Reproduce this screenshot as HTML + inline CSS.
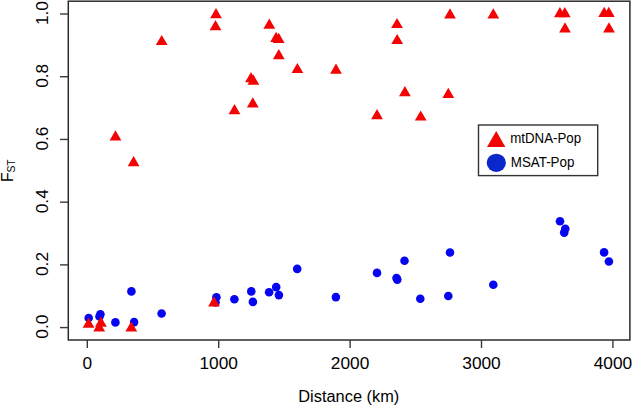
<!DOCTYPE html>
<html><head><meta charset="utf-8"><style>
html,body{margin:0;padding:0;background:#fff;}
body{width:633px;height:406px;overflow:hidden;}
svg{display:block;font-family:"Liberation Sans",sans-serif;fill:#000;}
</style></head><body>
<svg width="633" height="406" viewBox="0 0 633 406">
<rect x="68.3" y="1.2" width="561.6" height="338.8" fill="none" stroke="#2b2b2b" stroke-width="1.5"/>
<line x1="60" y1="327.60" x2="68.3" y2="327.60" stroke="#3a3a3a" stroke-width="1.4"/>
<line x1="60" y1="264.88" x2="68.3" y2="264.88" stroke="#3a3a3a" stroke-width="1.4"/>
<line x1="60" y1="202.16" x2="68.3" y2="202.16" stroke="#3a3a3a" stroke-width="1.4"/>
<line x1="60" y1="139.44" x2="68.3" y2="139.44" stroke="#3a3a3a" stroke-width="1.4"/>
<line x1="60" y1="76.72" x2="68.3" y2="76.72" stroke="#3a3a3a" stroke-width="1.4"/>
<line x1="60" y1="14.00" x2="68.3" y2="14.00" stroke="#3a3a3a" stroke-width="1.4"/>
<line x1="87.30" y1="340.0" x2="87.30" y2="348" stroke="#3a3a3a" stroke-width="1.4"/>
<line x1="218.70" y1="340.0" x2="218.70" y2="348" stroke="#3a3a3a" stroke-width="1.4"/>
<line x1="350.10" y1="340.0" x2="350.10" y2="348" stroke="#3a3a3a" stroke-width="1.4"/>
<line x1="481.50" y1="340.0" x2="481.50" y2="348" stroke="#3a3a3a" stroke-width="1.4"/>
<line x1="612.90" y1="340.0" x2="612.90" y2="348" stroke="#3a3a3a" stroke-width="1.4"/>
<text transform="translate(47.7 326.70) rotate(-90)" text-anchor="middle" font-size="17.3">0.0</text>
<text transform="translate(47.7 263.98) rotate(-90)" text-anchor="middle" font-size="17.3">0.2</text>
<text transform="translate(47.7 201.26) rotate(-90)" text-anchor="middle" font-size="17.3">0.4</text>
<text transform="translate(47.7 138.54) rotate(-90)" text-anchor="middle" font-size="17.3">0.6</text>
<text transform="translate(47.7 75.82) rotate(-90)" text-anchor="middle" font-size="17.3">0.8</text>
<text transform="translate(47.7 13.10) rotate(-90)" text-anchor="middle" font-size="17.3">1.0</text>
<text x="87.30" y="369.2" text-anchor="middle" font-size="17.3">0</text>
<text x="218.70" y="369.2" text-anchor="middle" font-size="17.3">1000</text>
<text x="350.10" y="369.2" text-anchor="middle" font-size="17.3">2000</text>
<text x="481.50" y="369.2" text-anchor="middle" font-size="17.3">3000</text>
<text x="612.90" y="369.2" text-anchor="middle" font-size="17.3">4000</text>
<text x="348.8" y="401.6" text-anchor="middle" font-size="17.3" textLength="101" lengthAdjust="spacingAndGlyphs">Distance (km)</text>
<text transform="translate(13.0 181.9) rotate(-90)" font-size="15.6">F</text><text transform="translate(15.0 172.6) rotate(-90)" font-size="10.2" textLength="13.2" lengthAdjust="spacingAndGlyphs">ST</text>
<g fill="#0505f2"><circle cx="88.7" cy="318" r="4.3"/><circle cx="100.4" cy="314.2" r="4.3"/><circle cx="99.5" cy="316.5" r="4.3"/><circle cx="115.4" cy="322.4" r="4.3"/><circle cx="131.4" cy="291.4" r="4.3"/><circle cx="134.1" cy="322.1" r="4.3"/><circle cx="161.6" cy="313.5" r="4.3"/><circle cx="216.4" cy="297.2" r="4.3"/><circle cx="215.5" cy="302.5" r="4.3"/><circle cx="234.4" cy="299.3" r="4.3"/><circle cx="251.3" cy="291.4" r="4.3"/><circle cx="252.9" cy="301.9" r="4.3"/><circle cx="269.1" cy="292.2" r="4.3"/><circle cx="276.2" cy="287.1" r="4.3"/><circle cx="278.9" cy="295.1" r="4.3"/><circle cx="297.2" cy="268.9" r="4.3"/><circle cx="335.9" cy="297.1" r="4.3"/><circle cx="377" cy="272.9" r="4.3"/><circle cx="396.5" cy="278.0" r="4.3"/><circle cx="397.3" cy="279.6" r="4.3"/><circle cx="404.5" cy="260.7" r="4.3"/><circle cx="420.3" cy="298.7" r="4.3"/><circle cx="448.3" cy="296" r="4.3"/><circle cx="450" cy="252.5" r="4.3"/><circle cx="493.3" cy="284.8" r="4.3"/><circle cx="560.0" cy="221.3" r="4.3"/><circle cx="565.3" cy="228.8" r="4.3"/><circle cx="564.2" cy="232.6" r="4.3"/><circle cx="604.1" cy="252.4" r="4.3"/><circle cx="608.9" cy="261.5" r="4.3"/></g>
<g fill="#f30404"><path d="M88.60 317.60L94.49 327.80L82.71 327.80Z"/><path d="M100.90 316.50L106.79 326.70L95.01 326.70Z"/><path d="M99.20 321.20L105.09 331.40L93.31 331.40Z"/><path d="M131.30 321.20L137.19 331.40L125.41 331.40Z"/><path d="M115.50 130.30L121.39 140.50L109.61 140.50Z"/><path d="M133.60 156.00L139.49 166.20L127.71 166.20Z"/><path d="M161.70 34.90L167.59 45.10L155.81 45.10Z"/><path d="M216.00 8.10L221.89 18.30L210.11 18.30Z"/><path d="M215.50 20.10L221.39 30.30L209.61 30.30Z"/><path d="M214.00 296.30L219.89 306.50L208.11 306.50Z"/><path d="M234.50 104.10L240.39 114.30L228.61 114.30Z"/><path d="M251.00 72.00L256.89 82.20L245.11 82.20Z"/><path d="M253.40 74.60L259.29 84.80L247.51 84.80Z"/><path d="M252.80 97.20L258.69 107.40L246.91 107.40Z"/><path d="M269.30 18.50L275.19 28.70L263.41 28.70Z"/><path d="M276.10 31.70L281.99 41.90L270.21 41.90Z"/><path d="M278.70 32.80L284.59 43.00L272.81 43.00Z"/><path d="M278.80 49.10L284.69 59.30L272.91 59.30Z"/><path d="M297.40 62.90L303.29 73.10L291.51 73.10Z"/><path d="M336.00 63.60L341.89 73.80L330.11 73.80Z"/><path d="M377.00 109.10L382.89 119.30L371.11 119.30Z"/><path d="M397.00 17.90L402.89 28.10L391.11 28.10Z"/><path d="M397.20 33.90L403.09 44.10L391.31 44.10Z"/><path d="M404.90 86.00L410.79 96.20L399.01 96.20Z"/><path d="M420.70 110.40L426.59 120.60L414.81 120.60Z"/><path d="M448.30 87.80L454.19 98.00L442.41 98.00Z"/><path d="M450.00 8.30L455.89 18.50L444.11 18.50Z"/><path d="M493.30 8.30L499.19 18.50L487.41 18.50Z"/><path d="M559.90 7.00L565.79 17.20L554.01 17.20Z"/><path d="M564.80 7.00L570.69 17.20L558.91 17.20Z"/><path d="M565.00 22.20L570.89 32.40L559.11 32.40Z"/><path d="M604.20 6.80L610.09 17.00L598.31 17.00Z"/><path d="M608.80 6.80L614.69 17.00L602.91 17.00Z"/><path d="M609.00 22.20L614.89 32.40L603.11 32.40Z"/></g>
<rect x="478.5" y="125.0" width="119.2" height="50.6" fill="#fff" stroke="#333" stroke-width="1.4"/>
<g fill="#f30404"><path d="M496.20 131.00L505.38 146.90L487.02 146.90Z"/></g>
<ellipse cx="496.3" cy="162.8" rx="9.6" ry="9.1" fill="#0a27cc"/>
<text x="510.2" y="142.5" font-size="14.4" textLength="71" lengthAdjust="spacingAndGlyphs">mtDNA-Pop</text>
<text x="510.8" y="167.3" font-size="14.4" textLength="63.6" lengthAdjust="spacingAndGlyphs">MSAT-Pop</text>
</svg>
</body></html>
